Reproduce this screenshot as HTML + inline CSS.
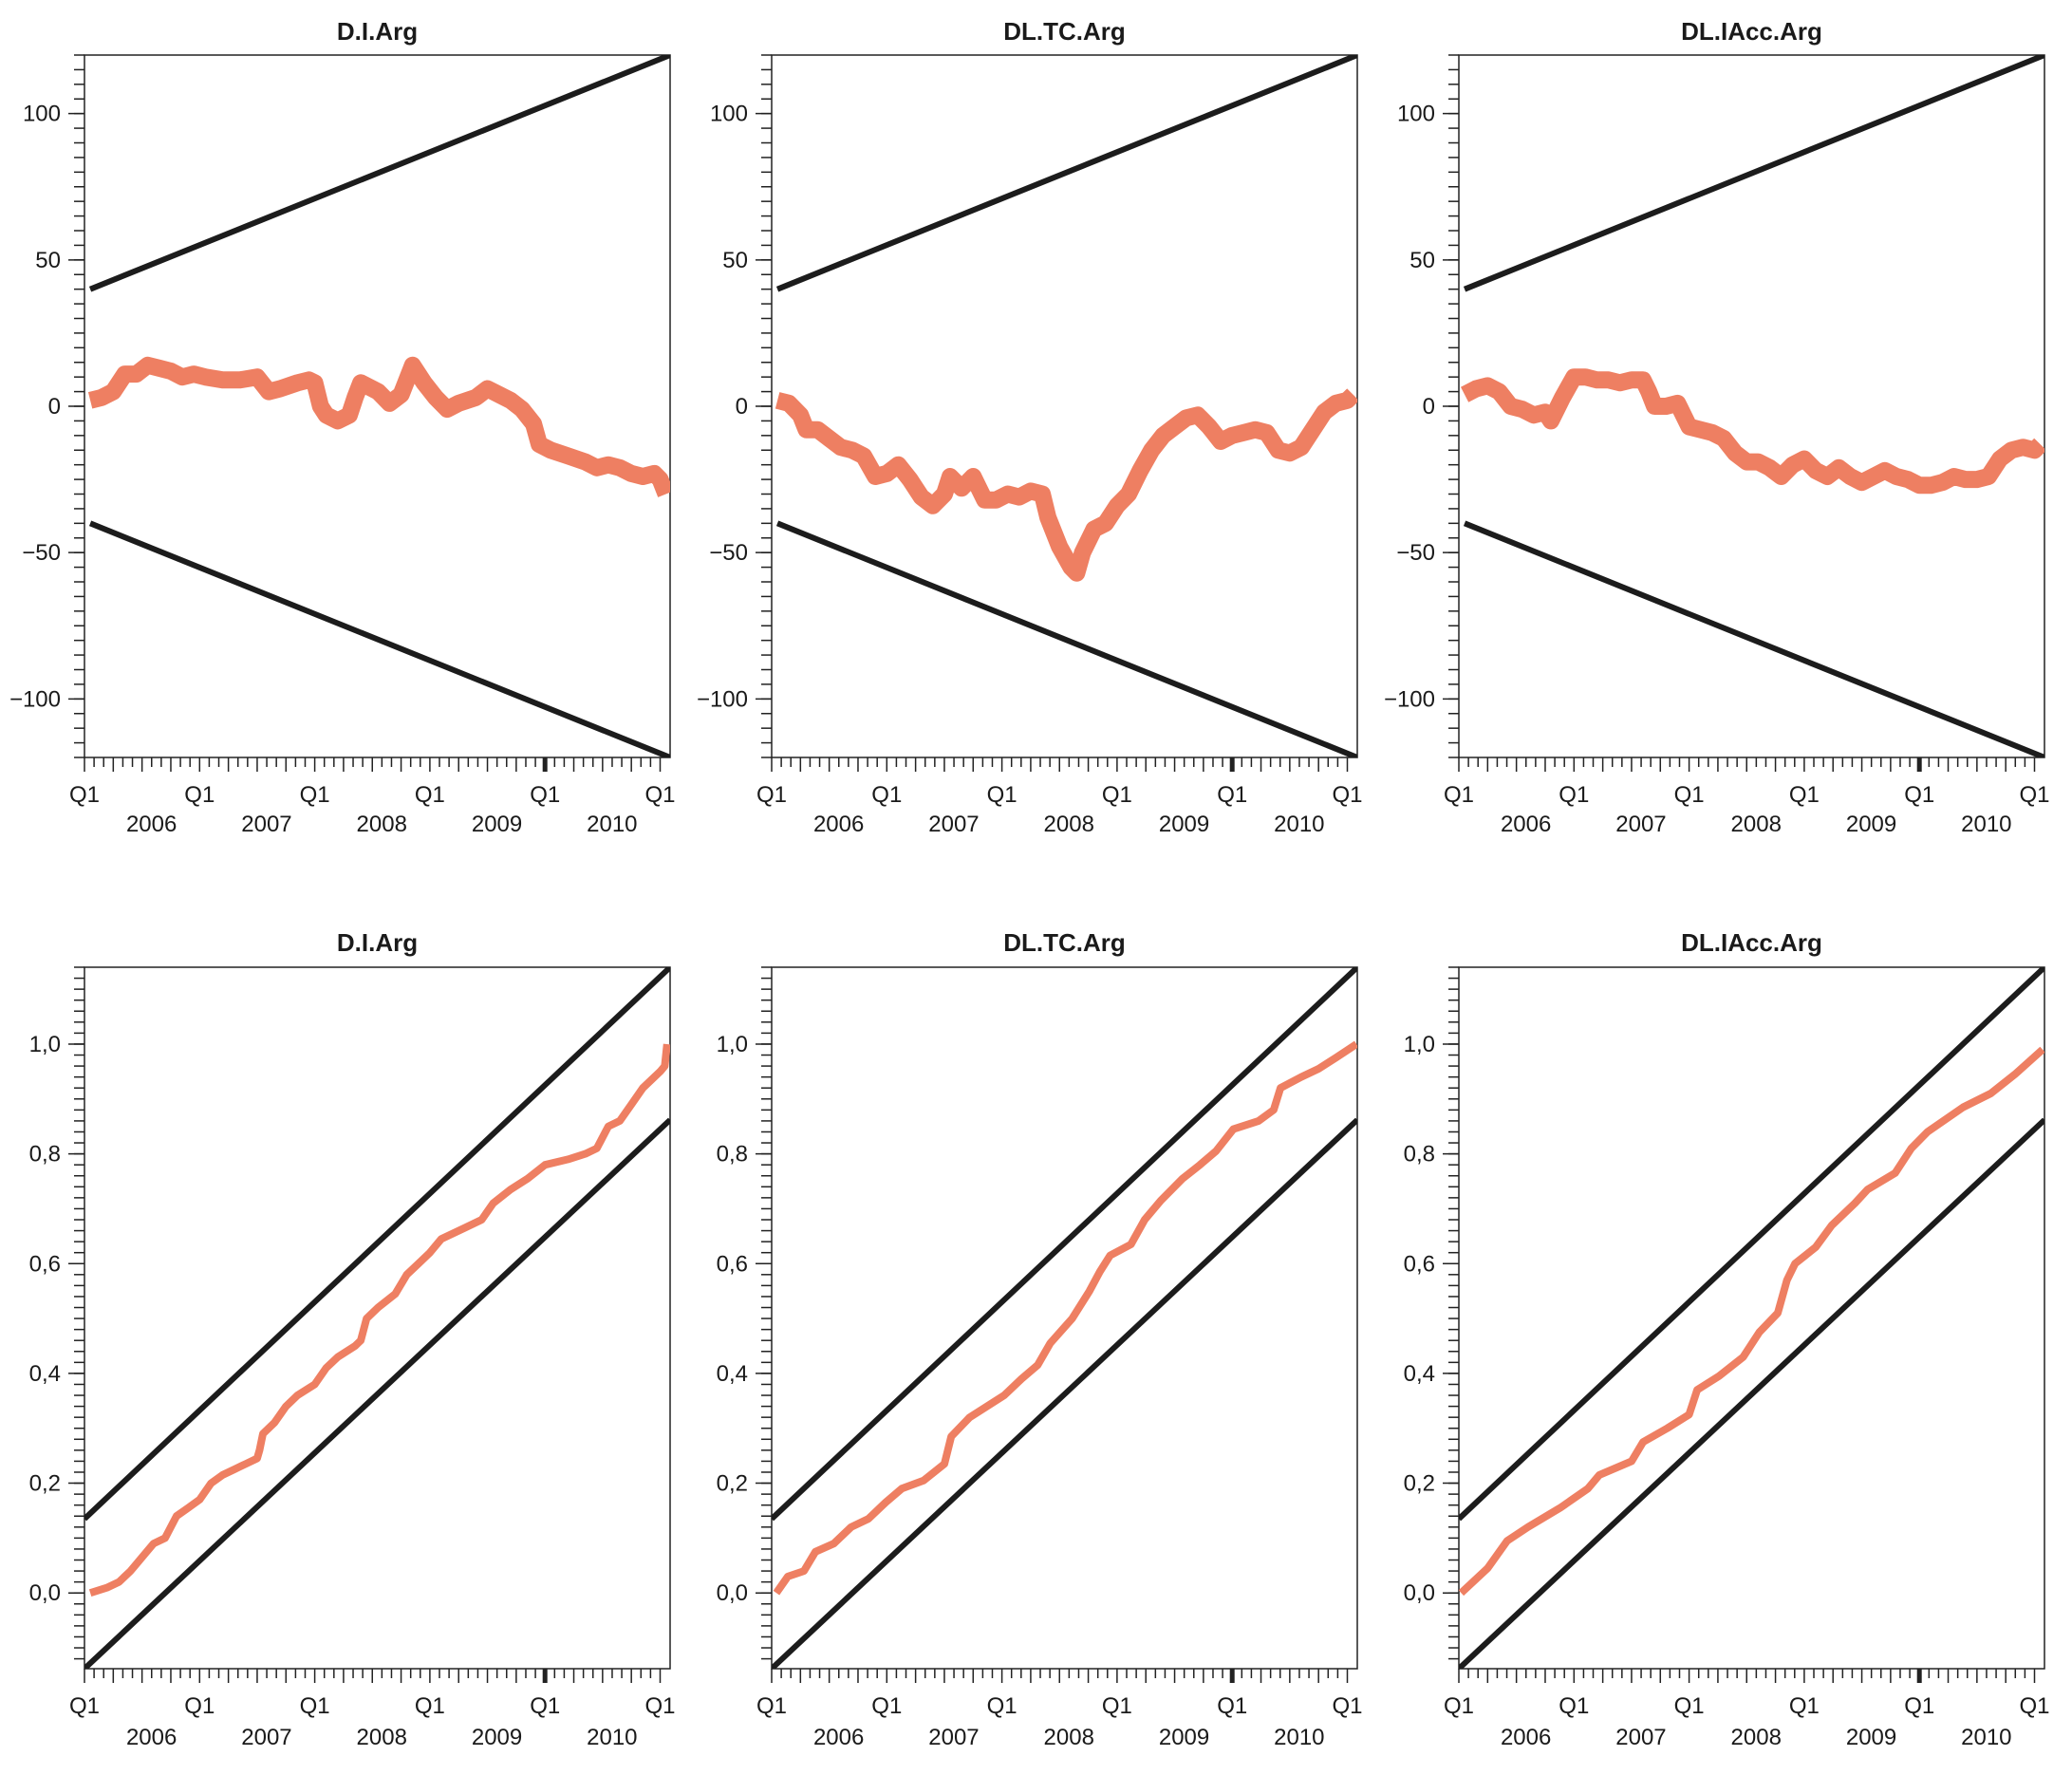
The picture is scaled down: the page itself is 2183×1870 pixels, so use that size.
<!DOCTYPE html>
<html><head><meta charset="utf-8">
<style>
html,body{margin:0;padding:0;background:#fff;}
svg{display:block;}
text{font-family:"Liberation Sans Narrow","Liberation Sans",sans-serif;fill:#1a1a1a;}
</style></head>
<body>
<svg id="chart" xmlns="http://www.w3.org/2000/svg" width="2183" height="1870" viewBox="0 0 2183 1870"></svg>
<script>
// ---- data ----
const titles = ["D.I.Arg", "DL.TC.Arg", "DL.IAcc.Arg"];
const yearLabels = ["2006", "2007", "2008", "2009", "2010"];
const topTicks = [-100, -50, 0, 50, 100];
const topTickLabels = ["\u2212100", "\u221250", "0", "50", "100"];
const botTicks = [0, 0.2, 0.4, 0.6, 0.8, 1.0];
const botTickLabels = ["0,0", "0,2", "0,4", "0,6", "0,8", "1,0"];
// time in years since Q1 2006
const cusumT1 = [0.05,0.15,0.25,0.35,0.45,0.55,0.65,0.75,0.85,0.95,1.05,1.2,1.35,1.5,1.6,1.7,1.85,1.95,2.0,2.05,2.1,2.2,2.3,2.35,2.4,2.5,2.55,2.65,2.75,2.85,2.95,3.05,3.15,3.25,3.4,3.5,3.6,3.7,3.8,3.9,3.95,4.05,4.2,4.35,4.45,4.55,4.65,4.75,4.85,4.95,5.0,5.05];
const cusumV1 = [2,3,5,11,11,14,13,12,10,11,10,9,9,10,5,6,8,9,8,0,-3,-5,-3,3,8,6,5,1,4,14,8,3,-1,1,3,6,4,2,-1,-6,-13,-15,-17,-19,-21,-20,-21,-23,-24,-23,-25,-30];
const cusumT2 = [0.05,0.15,0.25,0.3,0.4,0.5,0.6,0.7,0.8,0.9,1.0,1.1,1.2,1.3,1.4,1.5,1.55,1.65,1.75,1.85,1.95,2.05,2.15,2.25,2.35,2.4,2.5,2.6,2.65,2.7,2.8,2.9,3.0,3.1,3.2,3.3,3.4,3.5,3.6,3.7,3.8,3.9,4.0,4.1,4.2,4.3,4.4,4.5,4.6,4.7,4.8,4.9,5.0,5.05];
const cusumV2 = [2,1,-3,-8,-8,-11,-14,-15,-17,-24,-23,-20,-25,-31,-34,-30,-24,-28,-24,-32,-32,-30,-31,-29,-30,-38,-48,-55,-57,-50,-42,-40,-34,-30,-22,-15,-10,-7,-4,-3,-7,-12,-10,-9,-8,-9,-15,-16,-14,-8,-2,1,2,4];
const cusumT3 = [0.05,0.15,0.25,0.35,0.45,0.55,0.65,0.75,0.8,0.9,1.0,1.1,1.2,1.3,1.4,1.5,1.6,1.65,1.7,1.8,1.9,2.0,2.1,2.2,2.3,2.4,2.5,2.6,2.7,2.8,2.9,3.0,3.1,3.2,3.3,3.4,3.5,3.6,3.7,3.8,3.9,4.0,4.1,4.2,4.3,4.4,4.5,4.6,4.7,4.8,4.9,5.0,5.05];
const cusumV3 = [4,6,7,5,0,-1,-3,-2,-5,3,10,10,9,9,8,9,9,5,0,0,1,-7,-8,-9,-11,-16,-19,-19,-21,-24,-20,-18,-22,-24,-21,-24,-26,-24,-22,-24,-25,-27,-27,-26,-24,-25,-25,-24,-18,-15,-14,-15,-13];
const sqT1 = [0.05,0.2,0.3,0.4,0.5,0.6,0.7,0.8,0.9,1.0,1.1,1.2,1.3,1.4,1.5,1.52,1.55,1.65,1.75,1.85,2.0,2.1,2.2,2.35,2.4,2.45,2.55,2.7,2.8,2.9,3.0,3.1,3.3,3.45,3.55,3.7,3.85,4.0,4.2,4.35,4.45,4.55,4.65,4.75,4.85,5.0,5.04,5.06];
const sqV1 = [0.0,0.01,0.02,0.04,0.065,0.09,0.10,0.14,0.155,0.17,0.20,0.215,0.225,0.235,0.245,0.26,0.29,0.31,0.34,0.36,0.38,0.41,0.43,0.45,0.46,0.50,0.52,0.545,0.58,0.60,0.62,0.645,0.665,0.68,0.71,0.735,0.755,0.78,0.79,0.80,0.81,0.85,0.86,0.89,0.92,0.95,0.96,1.0];
const sqT2 = [0.04,0.14,0.28,0.38,0.54,0.69,0.84,0.99,1.13,1.32,1.5,1.56,1.72,1.87,2.02,2.17,2.31,2.42,2.61,2.76,2.85,2.94,3.12,3.24,3.38,3.57,3.72,3.86,4.01,4.23,4.36,4.42,4.6,4.75,4.9,5.08];
const sqV2 = [0.0,0.03,0.04,0.075,0.09,0.12,0.135,0.165,0.19,0.205,0.235,0.285,0.32,0.34,0.36,0.39,0.415,0.455,0.50,0.55,0.585,0.615,0.635,0.68,0.715,0.755,0.78,0.805,0.845,0.86,0.88,0.92,0.94,0.955,0.975,1.0];
const sqT3 = [0.02,0.25,0.42,0.6,0.88,1.12,1.22,1.5,1.6,1.81,2.0,2.07,2.26,2.47,2.61,2.77,2.85,2.92,3.1,3.24,3.44,3.55,3.79,3.93,4.07,4.38,4.62,4.83,5.07];
const sqV3 = [0.0,0.045,0.095,0.12,0.155,0.19,0.215,0.24,0.275,0.30,0.325,0.37,0.395,0.43,0.475,0.51,0.57,0.60,0.63,0.67,0.71,0.735,0.765,0.81,0.84,0.885,0.91,0.945,0.99];
// critical bounds: [t0, t1] and values
const cusumBoundT = [0.05, 5.087];
const cusumUpper = [40, 120];
const cusumLower = [-40, -120];
const sqBoundT = [0, 5.087];
const sqUpper = [0.135, 1.14];
const sqLower = [-0.138, 0.862];

// ---- layout ----
const svg = document.getElementById('chart');
const NS = 'http://www.w3.org/2000/svg';
const panelLefts = [89, 813, 1537];
const PW = 617, YEARPX = 121.3;
const rows = [
  {top: 58, bottom: 798, ymin: -120, ymax: 120, titleY: 33, qY: 845, yrY: 876, ticks: topTicks, labels: topTickLabels, minor: 5,
   series: [[cusumT1,cusumV1],[cusumT2,cusumV2],[cusumT3,cusumV3]], bt: cusumBoundT, up: cusumUpper, lo: cusumLower, sw: 18, name: 'cusum'},
  {top: 1019, bottom: 1758, ymin: -0.138, ymax: 1.14, titleY: 993, qY: 1805, yrY: 1838, ticks: botTicks, labels: botTickLabels, minor: 0.02,
   series: [[sqT1,sqV1],[sqT2,sqV2],[sqT3,sqV3]], bt: sqBoundT, up: sqUpper, lo: sqLower, sw: 8, name: 'cusumsq'}
];
function el(tag, attrs, parent){ const e=document.createElementNS(NS,tag); for(const k in attrs) e.setAttribute(k,attrs[k]); (parent||svg).appendChild(e); return e; }

rows.forEach((row, ri) => {
  panelLefts.forEach((L, pi) => {
    const g = el('g', {});
    
    
    const xs = t => L + t * YEARPX;
    const ys = v => row.bottom - (v - row.ymin) / (row.ymax - row.ymin) * (row.bottom - row.top);
    const tt = el('text', {x: L + PW/2, y: row.titleY + 9, 'text-anchor':'middle', 'font-size':'26', 'font-weight':'bold'}, g);
    tt.textContent = titles[pi];
    
    
    const fr = el('rect', {x: L, y: row.top, width: PW, height: row.bottom-row.top, fill:'none', stroke:'#222', 'stroke-width':'1.5'}, g);
    
    
    const ya = el('g', {stroke:'#222','stroke-width':'1.5'}, g);
    
    
    const n0 = Math.ceil(row.ymin/row.minor - 1e-6), n1 = Math.floor(row.ymax/row.minor + 1e-6);
    for (let n=n0; n<=n1; n++){ const y = ys(n*row.minor); el('line',{x1:L-11,x2:L,y1:y,y2:y},ya); }
    row.ticks.forEach((v,i) => {
      const y = ys(v);
      el('line',{x1:L-17,x2:L,y1:y,y2:y},ya);
      const lt = el('text',{x:L-25,y:y+8,'text-anchor':'end','font-size':'24',stroke:'none'},g);
      lt.textContent = row.labels[i];
      
      
    });
    const xa = el('g', {stroke:'#222','stroke-width':'1.5'}, g);
    
    
    for (let m=0; m<=60; m++){
      const x = xs(m/12);
      const len = (m%3===0) ? 15 : 10;
      const ln = el('line',{x1:x,x2:x,y1:row.bottom,y2:row.bottom+len},xa);
      if (m===48) ln.setAttribute('stroke-width','5');
    }
    for (let yI=0; yI<=5; yI++){
      const q = el('text',{x:xs(yI),y:row.qY,'text-anchor':'middle','font-size':'24'},g);
      q.textContent = 'Q1';
      
      
    }
    yearLabels.forEach((yl,i) => {
      const t = el('text',{x:xs(i+0.5)+10,y:row.yrY,'text-anchor':'middle','font-size':'24'},g);
      t.textContent = yl;
      
      
    });
    const clipId = 'clip'+ri+pi;
    const cp = el('clipPath',{id:clipId},g);
    el('rect',{x:L,y:row.top,width:PW,height:row.bottom-row.top},cp);
    const ub = el('line',{x1:xs(row.bt[0]),y1:ys(row.up[0]),x2:xs(row.bt[1]),y2:ys(row.up[1]),stroke:'#1c1c1c','stroke-width':'6','clip-path':'url(#'+clipId+')'},g);
    
    
    const lb = el('line',{x1:xs(row.bt[0]),y1:ys(row.lo[0]),x2:xs(row.bt[1]),y2:ys(row.lo[1]),stroke:'#1c1c1c','stroke-width':'6','clip-path':'url(#'+clipId+')'},g);
    
    
    const [T,V] = row.series[pi];
    const pts = T.map((t,i)=> xs(t).toFixed(1)+','+ys(V[i]).toFixed(1)).join(' ');
    const pl = el('polyline',{points:pts,fill:'none',stroke:'#ee7f62','stroke-width':row.sw,'stroke-linejoin':'round','clip-path':'url(#'+clipId+')'},g);
    
    
  });
});
</script>
</body></html>
